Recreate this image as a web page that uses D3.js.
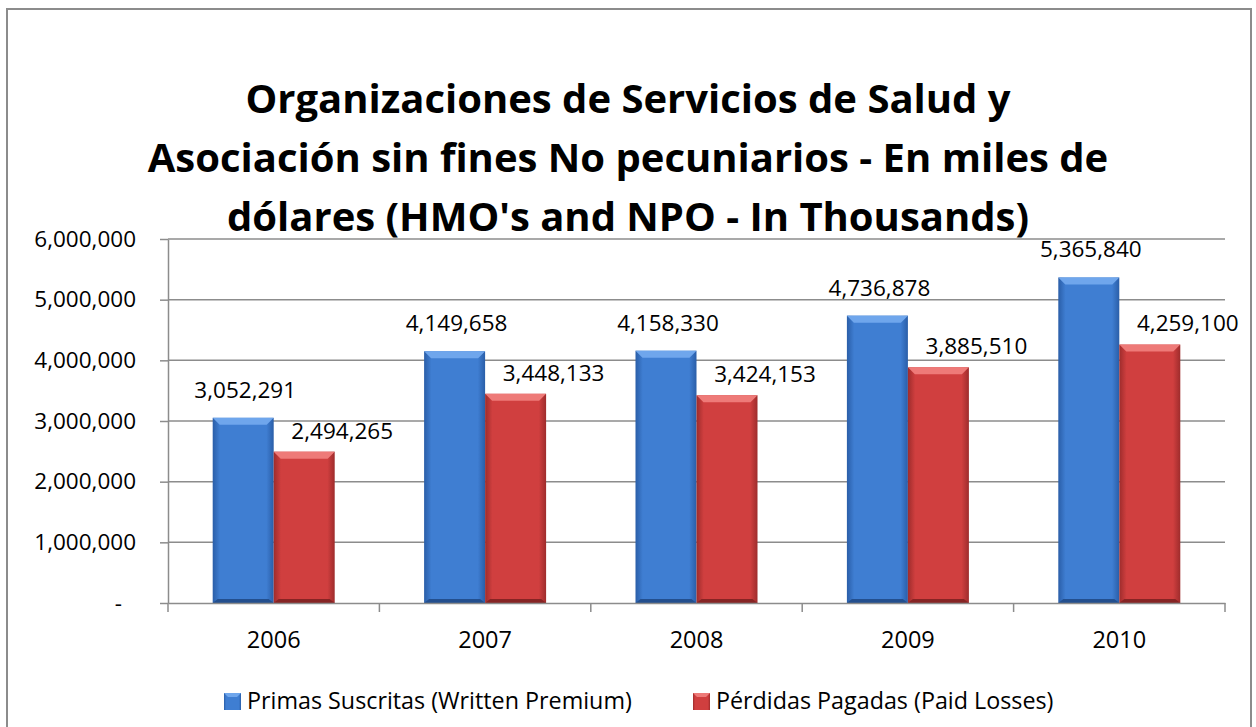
<html>
<head>
<script src="https://d3js.org/d3.v7.min.js"></script>
<style>
  body { margin: 0; background: white; }
  svg text { font-family: "Open Sans", "Noto Sans", sans-serif; fill: #000; }
</style>
</head>
<body>
<svg width="1256" height="727"></svg>
<script>
  // chart data
  var years = ["2006", "2007", "2008", "2009", "2010"];
  var premium = [3052291, 4149658, 4158330, 4736878, 5365840];
  var losses = [2494265, 3448133, 3424153, 3885510, 4259100];
  var seriesNames = ["Primas Suscritas (Written Premium)", "Pérdidas Pagadas (Paid Losses)"];
  var yTicks = [0, 1000000, 2000000, 3000000, 4000000, 5000000, 6000000];
  var titleLines = ["Organizaciones de Servicios de Salud y",
                    "Asociación sin fines No pecuniarios - En miles de",
                    "dólares (HMO's and NPO - In Thousands)"];

  var svg = d3.select("svg");
  var plotLeft = 168, plotRight = 1225, plotTop = 239, plotBottom = 603;
  var fontSize = "22.5px";

  // outer frame (bottom edge runs off the picture)
  svg.append("rect").attr("x", 7).attr("y", 9).attr("width", 1244).attr("height", 740)
    .attr("fill", "white").attr("stroke", "#8c8c8c").attr("stroke-width", 2);

  // gradients for the bevelled bars
  var defs = svg.append("defs");
  function grad(id, edge, mid) {
    var g = defs.append("linearGradient").attr("id", id).attr("x1", 0).attr("x2", 1).attr("y1", 0).attr("y2", 0);
    g.append("stop").attr("offset", "0%").attr("stop-color", edge);
    g.append("stop").attr("offset", "12%").attr("stop-color", mid);
    g.append("stop").attr("offset", "88%").attr("stop-color", mid);
    g.append("stop").attr("offset", "100%").attr("stop-color", edge);
  }
  grad("gBlue", "#2a5ea8", "#3f7ed2");
  grad("gRed", "#9e2c2c", "#d03f3f");
  var topColors = ["#6fa6ec", "#ee7a78"];
  var bottomColors = ["#234f8e", "#862424"];

  // title
  svg.append("g").selectAll("text").data(titleLines).enter()
    .append("text")
    .attr("x", 628)
    .attr("y", (d, i) => 99 + i * 59)
    .attr("dy", "0.35em")
    .attr("text-anchor", "middle")
    .style("font-size", "40px")
    .style("font-weight", "bold")
    .text(d => d);

  var x = d3.scaleBand().domain(years).range([plotLeft, plotRight]);
  var y = d3.scaleLinear().domain([0, 6000000]).range([plotBottom, plotTop]);
  var barW = 61;
  var fmt = d3.format(",");

  // gridlines
  svg.append("g").selectAll("line").data(yTicks.slice(1)).enter()
    .append("line")
    .attr("x1", plotLeft).attr("x2", plotRight)
    .attr("y1", d => y(d)).attr("y2", d => y(d))
    .attr("stroke", "#8c8c8c").attr("stroke-width", 1.5);

  // y axis
  var yAxis = svg.append("g").attr("transform", "translate(" + plotLeft + ",0)")
    .call(d3.axisLeft(y).tickValues(yTicks).tickSize(8).tickSizeOuter(0).tickPadding(24)
      .tickFormat(d => d === 0 ? "-" : fmt(d)));
  yAxis.selectAll("text").style("font-size", fontSize);
  yAxis.selectAll(".tick").filter(d => d === 0).select("text").attr("dx", -14);
  yAxis.selectAll("line, path").attr("stroke", "#8c8c8c").attr("stroke-width", 1.5);

  // bars
  var series = [premium, losses];
  var fills = ["url(#gBlue)", "url(#gRed)"];
  series.forEach(function(vals, s) {
    var g = svg.append("g");
    var bx = (d, i) => x(years[i]) + x.bandwidth() / 2 - barW + s * barW;
    g.selectAll("rect.bar").data(vals).enter()
      .append("rect").attr("class", "bar")
      .attr("x", bx)
      .attr("y", d => y(d))
      .attr("width", barW)
      .attr("height", d => plotBottom - y(d))
      .attr("fill", fills[s]);
    // bevel on top and a dark rim at the foot
    g.selectAll("path.cap").data(vals).enter()
      .append("path").attr("class", "cap")
      .attr("d", function(d, i) {
        var x0 = bx(d, i), y0 = y(d);
        return "M" + x0 + "," + y0 + "h" + barW + "l-7,7h" + (-(barW - 14)) + "z";
      })
      .attr("fill", topColors[s]);
    g.selectAll("path.foot").data(vals).enter()
      .append("path").attr("class", "foot")
      .attr("d", function(d, i) {
        var x0 = bx(d, i);
        return "M" + x0 + "," + plotBottom + "h" + barW + "l-5,-4h" + (-(barW - 10)) + "z";
      })
      .attr("fill", bottomColors[s]);
    // data labels
    g.selectAll("text").data(vals).enter()
      .append("text")
      .attr("x", (d, i) => bx(d, i) + barW / 2 + (s === 0 ? 2 : 38))
      .attr("y", d => y(d) - (s === 0 ? 28 : 21))
      .attr("dy", "0.35em")
      .attr("text-anchor", "middle")
      .style("font-size", fontSize)
      .text(d => fmt(d));
  });

  // x axis
  var xAxis = svg.append("g").attr("transform", "translate(0," + plotBottom + ")")
    .call(d3.axisBottom(x).tickSize(0).tickPadding(28));
  xAxis.selectAll("text").style("font-size", "23.5px");
  xAxis.select(".domain").attr("stroke", "#8c8c8c").attr("stroke-width", 1.5);
  xAxis.selectAll("line.sep").data(d3.range(years.length + 1)).enter()
    .append("line").attr("class", "sep")
    .attr("x1", i => plotLeft + i * x.step()).attr("x2", i => plotLeft + i * x.step())
    .attr("y1", 0).attr("y2", 9)
    .attr("stroke", "#8c8c8c").attr("stroke-width", 1.5);

  // legend
  var legendX = [224, 693];
  var lg = svg.append("g").selectAll("g").data(seriesNames).enter()
    .append("g").attr("transform", (d, i) => "translate(" + legendX[i] + ",701)");
  lg.append("rect").attr("x", 0).attr("y", -8).attr("width", 17).attr("height", 17)
    .attr("fill", (d, i) => fills[i]);
  lg.append("path").attr("d", "M0,-8h17l-4,4h-9z").attr("fill", (d, i) => topColors[i]);
  lg.append("text").attr("x", 23).attr("dy", "0.35em").style("font-size", "23.3px").text(d => d);
</script>
</body>
</html>
